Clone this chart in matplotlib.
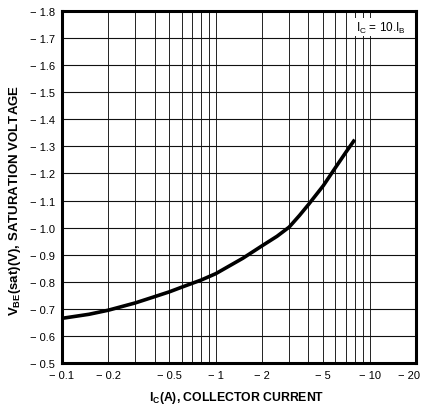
import numpy as np
import matplotlib
matplotlib.use("Agg")
import matplotlib.pyplot as plt
import matplotlib.transforms as mtransforms

plt.rcParams['font.family'] = ['Liberation Sans', 'DejaVu Sans']
plt.rcParams['mathtext.default'] = 'regular'

# curva (magnitudes, el eje muestra valores negativos)
ic = [0.1, 0.15, 0.2, 0.3, 0.4, 0.5, 0.6, 0.7, 0.8, 1.0, 1.5, 2.0, 2.5, 3.0,
      3.5, 4.0, 5.0, 6.0, 7.0, 8.0]
vbe = [0.665, 0.68, 0.695, 0.722, 0.745, 0.763, 0.78, 0.794, 0.806, 0.83, 0.887,
       0.933, 0.968, 1.002, 1.045, 1.085, 1.155, 1.222, 1.278, 1.325]

x_ticks = [0.1, 0.2, 0.5, 1, 2, 5, 10, 20]
x_labels = ["\u2212 0.1", "\u2212 0.2", "\u2212 0.5", "\u2212 1", "\u2212 2", "\u2212 5", "\u2212 10", "\u2212 20"]
x_grid = [0.2, 0.3, 0.4, 0.5, 0.6, 0.7, 0.8, 0.9, 1, 2, 3, 4, 5, 6, 7, 8, 9, 10]
y_ticks = np.round(np.arange(0.5, 1.81, 0.1), 1)

fig = plt.figure(figsize=(4.24, 4.06), dpi=100)
ax = fig.add_axes([0.146, 0.1034, 0.835, 0.867])

for xg in x_grid:
    ax.axvline(xg, color='#222222', lw=0.7, zorder=1)
for yg in y_ticks[1:-1]:
    ax.axhline(yg, color='#111111', lw=0.8, zorder=1)

ax.plot(ic, vbe, color='black', lw=2.6, solid_capstyle='butt',
        solid_joinstyle='round', zorder=3)

ax.set_xscale('log')
ax.set_xlim(0.1, 20)
ax.set_ylim(0.5, 1.8)
ax.set_xticks(x_ticks)
ax.set_xticklabels(x_labels)
ax.xaxis.set_minor_locator(matplotlib.ticker.NullLocator())
ax.set_yticks(y_ticks)
ax.set_yticklabels(["\u2212 %.1f" % v for v in y_ticks])
ax.tick_params(length=0, labelsize=8, pad=5)

# el ultimo rotulo queda al borde, se corre un poco a la izquierda
ultimo = ax.get_xticklabels()[-1]
ultimo.set_transform(ultimo.get_transform() +
                     mtransforms.ScaledTranslation(-5 / 72, 0, fig.dpi_scale_trans))

for s in ax.spines.values():
    s.set_linewidth(2.2)

ax.set_xlabel(r"$I_C$(A), COLLECTOR CURRENT", fontsize=8.8, fontweight='bold')
ax.xaxis.set_label_coords(0.494, -0.075)
ax.set_ylabel(r"$V_{BE}$(sat)(V), SATURATION VOLTAGE", fontsize=9.5, fontweight='bold')
ax.yaxis.set_label_coords(-0.11, 0.465)

ax.text(0.97, 0.975, r"$I_C$ = 10.$I_B$", transform=ax.transAxes, ha='right', va='top',
        fontsize=8.5, bbox=dict(facecolor='white', edgecolor='none', pad=1), zorder=4)

fig.savefig("out.png", dpi=100)
